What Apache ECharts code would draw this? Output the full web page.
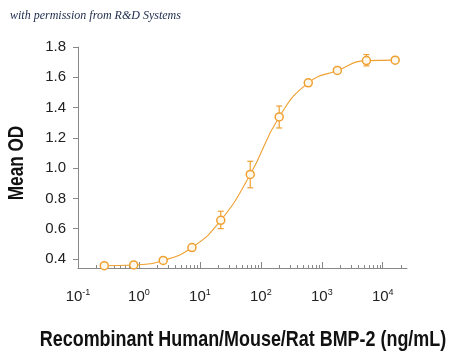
<!DOCTYPE html>
<html>
<head>
<meta charset="utf-8">
<script src="https://cdn.jsdelivr.net/npm/echarts@6/dist/echarts.min.js"></script>
<style>
html,body{margin:0;padding:0;background:#fff;}
#chart{width:450px;height:355px;}
</style>
</head>
<body>
<div id="chart"></div>
<script>
// Data
var concentrations = [0.27, 0.82, 2.5, 7.4, 22, 67, 200, 600, 1800, 5400, 16000];
var meanOD = [0.355, 0.36, 0.39, 0.475, 0.655, 0.958, 1.338, 1.563, 1.645, 1.71, 1.713];
var errLow = [0.35, 0.355, 0.383, 0.465, 0.60, 0.87, 1.265, 1.548, 1.632, 1.675, 1.70];
var errHigh = [0.36, 0.365, 0.397, 0.485, 0.715, 1.045, 1.41, 1.578, 1.658, 1.75, 1.725];
var xTickValues = [0.1, 1, 10, 100, 1000, 10000];
var yTickValues = [0.4, 0.6, 0.8, 1.0, 1.2, 1.4, 1.6, 1.8];
var xTitle = 'Recombinant Human/Mouse/Rat BMP-2 (ng/mL)';
var yTitle = 'Mean OD';
var credit = 'with permission from R&D Systems';

var minorTicks = [];
for (var e = -1; e <= 4; e++) {
  for (var m = 2; m <= 9; m++) {
    var v = m * Math.pow(10, e);
    if (v < 25000) minorTicks.push(v);
  }
}

var color = '#EFA031';
var font = '"Liberation Sans", Arial, sans-serif';

var lineData = concentrations.map(function (c, i) { return [c, meanOD[i]]; });
var errData = concentrations.map(function (c, i) { return [c, errLow[i], errHigh[i]]; });

var chart = echarts.init(document.getElementById('chart'), null, {renderer: 'canvas'});
chart.setOption({
  animation: false,
  backgroundColor: '#fff',
  grid: {left: 78, right: 43, top: 47, bottom: 87, containLabel: false, outerBoundsMode: 'none'},
  graphic: [
    {type: 'text', x: 10, y: 16, style: {text: credit, font: 'italic 12px "Liberation Serif", serif', fill: '#1c2a4a', textVerticalAlign: 'middle'}},
    {type: 'text', x: 17, y: 163, rotation: Math.PI/2, scaleX: 0.78,
     style: {text: yTitle, font: 'bold 22px ' + font, fill: '#111', align: 'center', verticalAlign: 'middle'}},
    {type: 'text', x: 243, y: 340, scaleX: 0.815,
     style: {text: xTitle, font: 'bold 22px ' + font, fill: '#111', align: 'center', verticalAlign: 'middle'}}
  ],
  xAxis: [{
    type: 'log', logBase: 10, min: 0.1, max: 25000,
    axisLine: {show: true, lineStyle: {color: '#888', width: 1}},
    axisTick: {show: true, inside: true, length: 6, customValues: xTickValues, lineStyle: {color: '#888'}},
    splitLine: {show: false},
    axisLabel: {
      customValues: xTickValues, margin: 20,
      formatter: function (v) { return '10{s|' + Math.round(Math.log10(v)) + '}'; },
      fontFamily: font, fontSize: 15, color: '#222',
      rich: {s: {fontFamily: font, fontSize: 9, color: '#222', verticalAlign: 'top', padding: [0, 0, 8, 0]}}
    }
  }, {
    type: 'log', logBase: 10, min: 0.1, max: 25000, position: 'bottom',
    axisLine: {show: false},
    axisTick: {show: true, inside: true, length: 3, customValues: minorTicks, lineStyle: {color: '#888'}},
    axisLabel: {show: false},
    splitLine: {show: false}
  }],
  yAxis: {
    type: 'value', min: 0.34, max: 1.8,
    axisLine: {show: true, lineStyle: {color: '#888', width: 1}},
    axisTick: {show: true, length: 5, customValues: yTickValues, lineStyle: {color: '#888'}},
    splitLine: {show: false},
    axisLabel: {
      customValues: yTickValues, margin: 12,
      formatter: function (v) { return v.toFixed(1); },
      fontFamily: font, fontSize: 15, color: '#222'
    }
  },
  series: [{
    type: 'line', data: lineData, smooth: 0.5,
    symbol: 'circle', symbolSize: 8,
    lineStyle: {color: color, width: 1.1},
    itemStyle: {color: '#fff8ec', borderColor: color, borderWidth: 1.5},
    z: 3
  }, {
    type: 'custom', data: errData, z: 2,
    renderItem: function (params, api) {
      var x = api.value(0);
      var lo = api.coord([x, api.value(1)]);
      var hi = api.coord([x, api.value(2)]);
      var w = 3;
      var st = {stroke: color, lineWidth: 1.2};
      return {type: 'group', children: [
        {type: 'line', shape: {x1: lo[0], y1: lo[1], x2: hi[0], y2: hi[1]}, style: st},
        {type: 'line', shape: {x1: lo[0]-w, y1: lo[1], x2: lo[0]+w, y2: lo[1]}, style: st},
        {type: 'line', shape: {x1: hi[0]-w, y1: hi[1], x2: hi[0]+w, y2: hi[1]}, style: st}
      ]};
    }
  }]
});
</script>
</body>
</html>
